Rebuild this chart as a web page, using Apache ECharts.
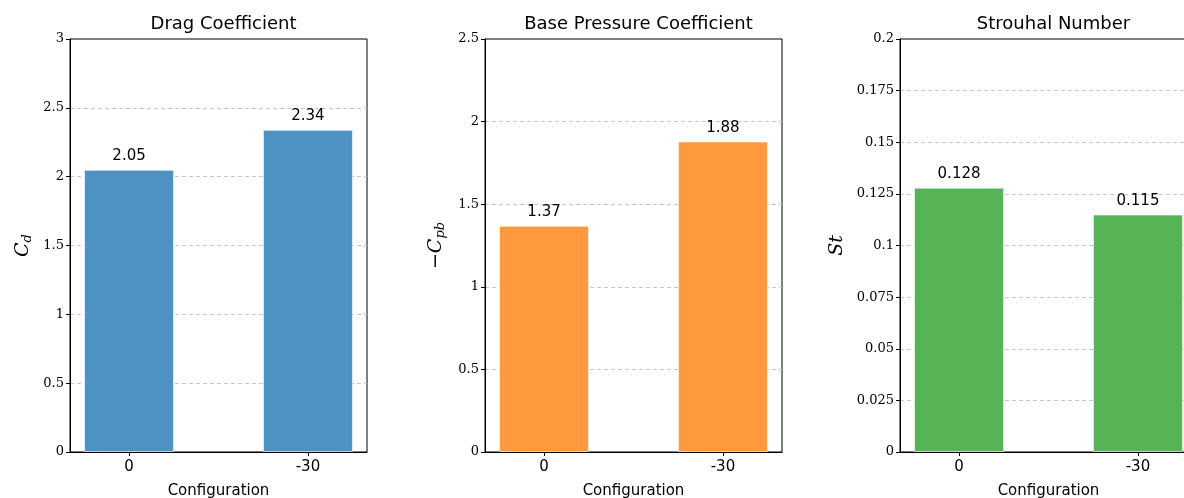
<!DOCTYPE html>
<html>
<head>
<meta charset="utf-8">
<script src="https://cdn.jsdelivr.net/npm/echarts@6/dist/echarts.min.js"></script>
<style>
  html, body { margin: 0; padding: 0; background: #fff; }
  #main { width: 1184px; height: 498px; }
</style>
</head>
<body>
<div id="main"></div>
<script>
// configurations on the x axis
const configs = ['0', '-30']
const dragValues = [2.05, 2.34]
const basePressureValues = [1.37, 1.88]
const strouhalValues = [0.128, 0.115]

const titles = ['Drag Coefficient', 'Base Pressure Coefficient', 'Strouhal Number']
const yMax = [3, 2.5, 0.2]
const yStep = [0.5, 0.5, 0.025]
const colors = ['#4c92c3', '#ff993e', '#56b356']

const gridLefts = [70, 485, 900]
const plotW = 297
const nameGaps = [36, 38, 53]
const yNames = [
  '{i|C}{s|d}',
  '{n|\u2212}{i|C}{s|pb}',
  '{i|St}'
]

var myChart = echarts.init(document.getElementById('main'), null, { renderer: 'canvas' })

const serif = 'DejaVu Serif'
const sans = 'DejaVu Sans'

function toPoints(vals){
  return vals.map((v, i) => [i, v])
}
const allData = [dragValues, basePressureValues, strouhalValues]

let grid = [], xAxis = [], yAxis = [], series = [], title = []
for (let k = 0; k < 3; k++) {
  grid.push({
    left: gridLefts[k], top: 39, width: plotW, height: 413,
    outerBoundsMode: 'none',
    show: true, borderColor: '#000', borderWidth: 1, backgroundColor: 'transparent'
  })
  title.push({
    text: titles[k],
    left: gridLefts[k] + plotW / 2,
    top: 10,
    textAlign: 'center',
    textStyle: { fontFamily: sans, fontSize: 18, fontWeight: 'normal', color: '#000' }
  })
  xAxis.push({
    type: 'value', gridIndex: k, min: -0.33, max: 1.33,
    name: 'Configuration', nameLocation: 'middle', nameGap: 32,
    nameTextStyle: { fontFamily: sans, fontSize: 15, color: '#000' },
    axisLine: { show: true, onZero: false, lineStyle: { color: '#000', width: 1 } },
    axisTick: { show: true, customValues: [0, 1], length: 4, lineStyle: { color: '#000' } },
    axisLabel: {
      customValues: [0, 1], margin: 8,
      formatter: v => configs[Math.round(v)],
      fontFamily: sans, fontSize: 15, color: '#000'
    },
    splitLine: { show: false }
  })
  yAxis.push({
    type: 'value', gridIndex: k, min: 0, max: yMax[k], interval: yStep[k],
    name: yNames[k], nameLocation: 'middle', nameGap: nameGaps[k], nameRotate: 90,
    nameTextStyle: {
      color: '#000',
      rich: {
        i: { fontFamily: serif, fontStyle: 'italic', fontSize: 19, color: '#000' },
        n: { fontFamily: serif, fontSize: 19, color: '#000' },
        s: { fontFamily: serif, fontStyle: 'italic', fontSize: 13, color: '#000', padding: [9, 0, 0, 0] }
      }
    },
    axisLine: { show: true, onZero: false, lineStyle: { color: '#000', width: 1 } },
    axisTick: { show: true, length: 4, lineStyle: { color: '#000' } },
    axisLabel: { fontFamily: serif, fontSize: 13, color: '#000', margin: 6 },
    splitLine: {
      show: true, showMinLine: false, showMaxLine: false,
      lineStyle: { color: '#c8c8c8', type: [4, 3], width: 1 }
    }
  })
  series.push({
    type: 'bar', xAxisIndex: k, yAxisIndex: k,
    data: toPoints(allData[k]),
    barWidth: 90,
    itemStyle: { color: colors[k], borderColor: 'rgba(255,255,255,0.6)', borderWidth: 1 },
    label: {
      show: true, position: 'top', distance: 6,
      formatter: p => String(p.value[1]),
      fontFamily: sans, fontSize: 15, color: '#000'
    },
    silent: true
  })
}

myChart.setOption({
  animation: false,
  title: title,
  grid: grid,
  xAxis: xAxis,
  yAxis: yAxis,
  series: series
})
</script>
</body>
</html>
